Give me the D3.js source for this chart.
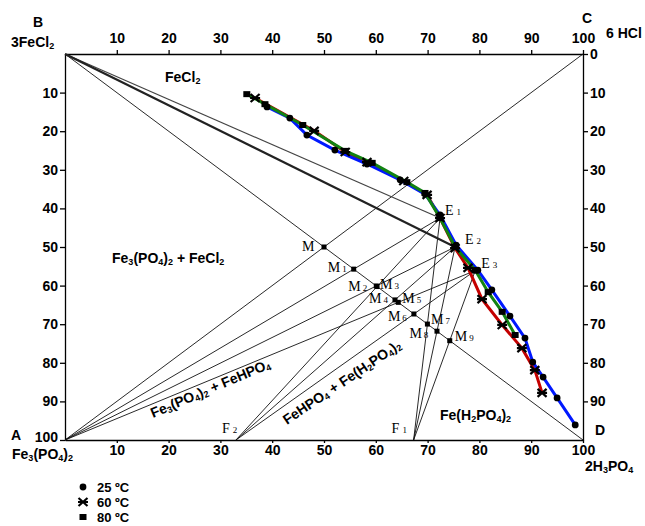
<!DOCTYPE html>
<html>
<head>
<meta charset="UTF-8">
<script src="https://d3js.org/d3.v7.min.js"></script>
<style>
  body { margin: 0; background: #fff; }
  svg { font-family: "Liberation Sans", Arial, sans-serif; }
  .axis text { font-size: 14px; font-weight: bold; fill: #000; font-family: "Liberation Sans", Arial, sans-serif; }
  .axis path, .axis line { stroke: #000; stroke-width: 1.3; }
  .lbl { font-size: 14px; font-weight: bold; fill: #000; }
  .leg { font-size: 13px; font-weight: bold; fill: #000; }
  .ml { font-family: "Liberation Serif", "Times New Roman", serif; font-size: 14px; fill: #000; }
</style>
</head>
<body>
<svg width="645" height="526"></svg>
<script>
  // axis ticks
  var topTicks = [10, 20, 30, 40, 50, 60, 70, 80, 90, 100]
  var bottomTicks = [10, 20, 30, 40, 50, 60, 70, 80, 90, 100]
  var leftTicks = [10, 20, 30, 40, 50, 60, 70, 80, 90, 100]
  var rightTicks = [0, 10, 20, 30, 40, 50, 60, 70, 80, 90]

  // solubility isotherms [x (6HCl), y (down)]
  var t25 = [[39, 13.7], [43.4, 16.6], [46.7, 21.0], [52.1, 24.9], [58.3, 28.5], [64.7, 32.6], [69.5, 36.3],
             [72.4, 41.7], [75.5, 49.5], [79.7, 56.0], [82.4, 61.1], [85.9, 67.9], [88.8, 73.6],
             [90.3, 79.8], [92.3, 83.7], [95.0, 89.1], [98.5, 96.1]]
  var t60 = [[36.7, 11.4], [48.1, 19.9], [54.1, 25.4], [58.3, 28.0], [65.4, 32.9], [69.9, 36.5],
             [72.4, 42.5], [75.3, 50.3], [77.8, 55.4], [80.5, 63.5], [84.4, 70.2], [88.2, 76.2],
             [90.7, 81.9], [92.1, 87.8]]
  var t80 = [[35.1, 10.4], [38.6, 13.0], [45.9, 18.4], [54.1, 25.1], [59.3, 28.2], [66.0, 33.2],
             [69.5, 36.0], [72.4, 42.5], [75.3, 50.0], [79.2, 56.0], [81.7, 61.7], [84.4, 66.8], [86.9, 72.8]]

  // invariant and reference points
  var nodes = { A: [0, 100], B: [0, 0], C: [100, 0], D: [100, 100],
                E1: [72.4, 42.5], E2: [75.3, 50.0], E3: [79.2, 56.1],
                F1: [67.3, 100], F2: [33.0, 100] }

  // tie lines and mixing points (each M is where a tie line crosses BD)
  var tieLines = [["A", "E1"], ["A", "E2"], ["A", "E3"], ["F2", "E1"], ["F2", "E2"], ["F2", "E3"],
                  ["F1", "E1"], ["F1", "E2"], ["F1", "E3"], ["B", "D"], ["A", "C"]]
  var mixes = [["M", "A", "C"], ["M1", "A", "E1"], ["M2", "A", "E2"], ["M3", "F2", "E1"], ["M4", "F2", "E2"],
               ["M5", "A", "E3"], ["M6", "F2", "E3"], ["M7", "F1", "E2"], ["M8", "F1", "E1"], ["M9", "F1", "E3"]]

  var svg = d3.select("svg")
  var x = d3.scaleLinear().domain([0, 100]).range([65, 583])
  var y = d3.scaleLinear().domain([0, 100]).range([54, 440])

  // label offsets in px
  var off = { M: [-22, 4], M1: [-26, 3], M2: [-28, 5], M3: [3, 2], M4: [-26, 3], M5: [4, 1], M6: [-26, 7],
              M7: [-6, -7], M8: [-18, 14], M9: [5, 0], E1: [5, -3], E2: [10, -3], E3: [6, -3],
              F1: [-22, -7], F2: [-14, -7] }

  function rich(t, s, subSize) {
    var lowered = false
    for (var i = 0; i < s.length; i++) {
      var c = s[i]
      var sub = /\d/.test(c) && i > 0 && /[A-Za-z)]/.test(s[i - 1])
      var ts = t.append("tspan").text(c)
      if (sub) {
        ts.style("font-size", subSize + "px")
        if (!lowered) { ts.attr("dy", 2); lowered = true }
      } else if (lowered) {
        ts.attr("dy", -2); lowered = false
      }
    }
    return t
  }

  function lineCross(p, q) {
    // intersection of segment p-q with diagonal B-D (y = x)
    var t = (p[1] - p[0]) / ((q[0] - p[0]) - (q[1] - p[1]))
    return [p[0] + t * (q[0] - p[0]), p[1] + t * (q[1] - p[1])]
  }

  // axes
  svg.append("g").attr("class", "axis").attr("transform", "translate(0,54)")
    .call(d3.axisTop(x).tickValues(topTicks).tickSize(4).tickSizeOuter(0).tickPadding(7))
  svg.append("g").attr("class", "axis").attr("transform", "translate(0,440)")
    .call(d3.axisBottom(x).tickValues(bottomTicks).tickSize(3).tickSizeOuter(0).tickPadding(2))
  var leftAxis = svg.append("g").attr("class", "axis").attr("transform", "translate(65,0)")
    .call(d3.axisLeft(y).tickValues(leftTicks).tickSize(5).tickSizeOuter(0).tickPadding(2))
  leftAxis.selectAll(".tick text").filter(function(d) { return d == 100 }).attr("dy", "0.1em")
  svg.append("g").attr("class", "axis").attr("transform", "translate(583,0)")
    .call(d3.axisRight(y).tickValues(rightTicks).tickSize(5).tickSizeOuter(0).tickPadding(2))

  // tie lines
  svg.selectAll(".tie").data(tieLines).enter().append("line")
    .attr("x1", function(d) { return x(nodes[d[0]][0]) })
    .attr("y1", function(d) { return y(nodes[d[0]][1]) })
    .attr("x2", function(d) { return x(nodes[d[1]][0]) })
    .attr("y2", function(d) { return y(nodes[d[1]][1]) })
    .attr("stroke", "#111").attr("stroke-width", 0.9)

  svg.append("line")
    .attr("x1", x(nodes.B[0])).attr("y1", y(nodes.B[1]))
    .attr("x2", x(nodes.E1[0])).attr("y2", y(nodes.E1[1]))
    .attr("stroke", "#444").attr("stroke-width", 1.2)
  svg.append("line")
    .attr("x1", x(nodes.B[0])).attr("y1", y(nodes.B[1]))
    .attr("x2", x(nodes.E2[0])).attr("y2", y(nodes.E2[1]))
    .attr("stroke", "#222").attr("stroke-width", 2.2)

  // isotherm curves
  var line = d3.line().x(function(d) { return x(d[0]) }).y(function(d) { return y(d[1]) })
  svg.append("path").datum(t60).attr("d", line).attr("fill", "none").attr("stroke", "#c40000").attr("stroke-width", 3)
  svg.append("path").datum(t25).attr("d", line).attr("fill", "none").attr("stroke", "#0018ff").attr("stroke-width", 3)
  svg.append("path").datum(t80).attr("d", line).attr("fill", "none").attr("stroke", "#128312").attr("stroke-width", 3)

  function circleMark(g) { g.append("circle").attr("r", 3.4).attr("fill", "#000") }
  function crossMark(g) {
    g.append("path").attr("d", "M-4.5,-4L4.5,4M-4.5,4L4.5,-4M-5,0L5,0")
      .attr("stroke", "#000").attr("stroke-width", 2.2).attr("fill", "none")
  }
  function squareMark(g) { g.append("rect").attr("x", -3.5).attr("y", -3).attr("width", 7).attr("height", 6).attr("fill", "#000") }

  function marks(data, fn) {
    svg.append("g").selectAll("g").data(data).enter().append("g")
      .attr("transform", function(d) { return "translate(" + x(d[0]) + "," + y(d[1]) + ")" })
      .each(function() { fn(d3.select(this)) })
  }
  marks(t25, circleMark)
  marks(t60, crossMark)
  marks(t80, squareMark)

  // mixing points
  mixes.forEach(function(m) {
    var p = lineCross(nodes[m[1]], nodes[m[2]])
    var px = x(p[0]), py = y(p[1])
    svg.append("rect").attr("x", px - 2.5).attr("y", py - 2.5).attr("width", 5).attr("height", 5).attr("fill", "#000")
    var t = svg.append("text").attr("class", "ml").attr("x", px + off[m[0]][0]).attr("y", py + off[m[0]][1])
    t.append("tspan").text("M")
    if (m[0].length > 1) t.append("tspan").attr("dx", 2).style("font-size", "9px").text(m[0].slice(1))
  })

  // E and F labels
  ;["E1", "E2", "E3", "F1", "F2"].forEach(function(k) {
    var px = x(nodes[k][0]), py = y(nodes[k][1])
    if (k[0] == "E") svg.append("rect").attr("x", px - 3).attr("y", py - 3).attr("width", 6).attr("height", 6).attr("fill", "#000")
    var t = svg.append("text").attr("class", "ml").attr("x", px + off[k][0]).attr("y", py + off[k][1])
    t.append("tspan").text(k[0])
    t.append("tspan").attr("dx", 3).style("font-size", "9px").text(k.slice(1))
  })

  // corner labels
  var corner = [["B", 33, 27], ["3FeCl2", 11, 47], ["C", 582, 23], ["6 HCl", 606, 38],
                ["A", 11, 440], ["Fe3(PO4)2", 12, 459], ["D", 595, 435], ["2H3PO4", 585, 471]]
  corner.forEach(function(c) {
    rich(svg.append("text").attr("class", "lbl").attr("x", c[1]).attr("y", c[2]), c[0], 9)
  })

  // region labels
  rich(svg.append("text").attr("class", "lbl").attr("x", 165).attr("y", 82), "FeCl2", 9)
  rich(svg.append("text").attr("class", "lbl").attr("x", 112).attr("y", 263), "Fe3(PO4)2 + FeCl2", 9)
  rich(svg.append("text").attr("class", "lbl").attr("transform", "translate(153,418) rotate(-23)"), "Fe3(PO4)2 + FeHPO4", 9)
  rich(svg.append("text").attr("class", "lbl").attr("transform", "translate(287,425) rotate(-34)"), "FeHPO4 + Fe(H2PO4)2", 9)
  rich(svg.append("text").attr("class", "lbl").attr("x", 440).attr("y", 420), "Fe(H2PO4)2", 9)

  // legend
  var legend = [["25 ºC", circleMark], ["60 ºC", crossMark], ["80 ºC", squareMark]]
  legend.forEach(function(l, i) {
    var g = svg.append("g").attr("transform", "translate(83," + (487 + i * 15) + ")")
    l[1](g)
    g.append("text").attr("class", "leg").attr("x", 14).attr("y", 5).text(l[0])
  })
</script>
</body>
</html>
